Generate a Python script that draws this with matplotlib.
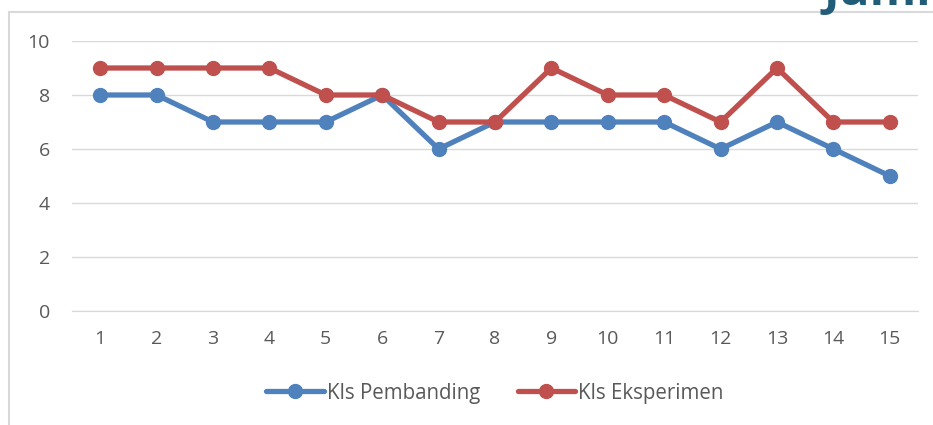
import matplotlib.pyplot as plt
from matplotlib.patches import Rectangle

x = list(range(1, 16))
pembanding = [8, 8, 7, 7, 7, 8, 6, 7, 7, 7, 7, 6, 7, 6, 5]
eksperimen = [9, 9, 9, 9, 8, 8, 7, 7, 9, 8, 8, 7, 9, 7, 7]
labels = ['Kls Pembanding', 'Kls Eksperimen']
cols = ['#4F81BD', '#C0504D']

plt.rcParams['font.family'] = ['Open Sans', 'DejaVu Sans']

fig = plt.figure(figsize=(9.33, 4.25), dpi=100)
ax = fig.add_axes([72 / 933, 1 - 311 / 425, 846 / 933, 270 / 425])

# chart frame (cut off on the right and bottom)
fig.patches.append(Rectangle((9 / 933, -0.1), 1.2, 1 - 12 / 425 + 0.1,
                             transform=fig.transFigure, fill=False,
                             edgecolor='#d9d9d9', linewidth=1.5))
# title, mostly above the visible area
fig.text(824 / 933, 1 - 5 / 425, 'Jumlah', color='#215d78', fontsize=34,
         fontweight='bold', va='baseline', ha='left')

ax.plot(x, pembanding, color=cols[0], linewidth=3.8, marker='o',
        markersize=10, label=labels[0], solid_capstyle='round')
ax.plot(x, eksperimen, color=cols[1], linewidth=3.8, marker='o',
        markersize=10, label=labels[1], solid_capstyle='round')

ax.set_xlim(0.5, 15.5)
ax.set_ylim(0, 10)
ax.set_yticks(range(0, 11, 2))
ax.set_xticks(x)
ax.grid(axis='y', color='#d9d9d9', linewidth=1)
ax.set_axisbelow(True)
for s in ['top', 'right', 'left']:
    ax.spines[s].set_visible(False)
ax.spines['bottom'].set_color('#d9d9d9')
ax.tick_params(length=0, labelsize=14, labelcolor='#595959')
ax.tick_params(axis='x', pad=14)
ax.tick_params(axis='y', pad=16)

ax.legend(loc='center', bbox_to_anchor=(0.5, (425 - 393 - (425 - 311)) / 270),
          ncol=2, frameon=False, fontsize=14.8, labelcolor='#595959',
          handlelength=2.8, columnspacing=1.8, handletextpad=0.15)

plt.savefig('out.png', dpi=100)
